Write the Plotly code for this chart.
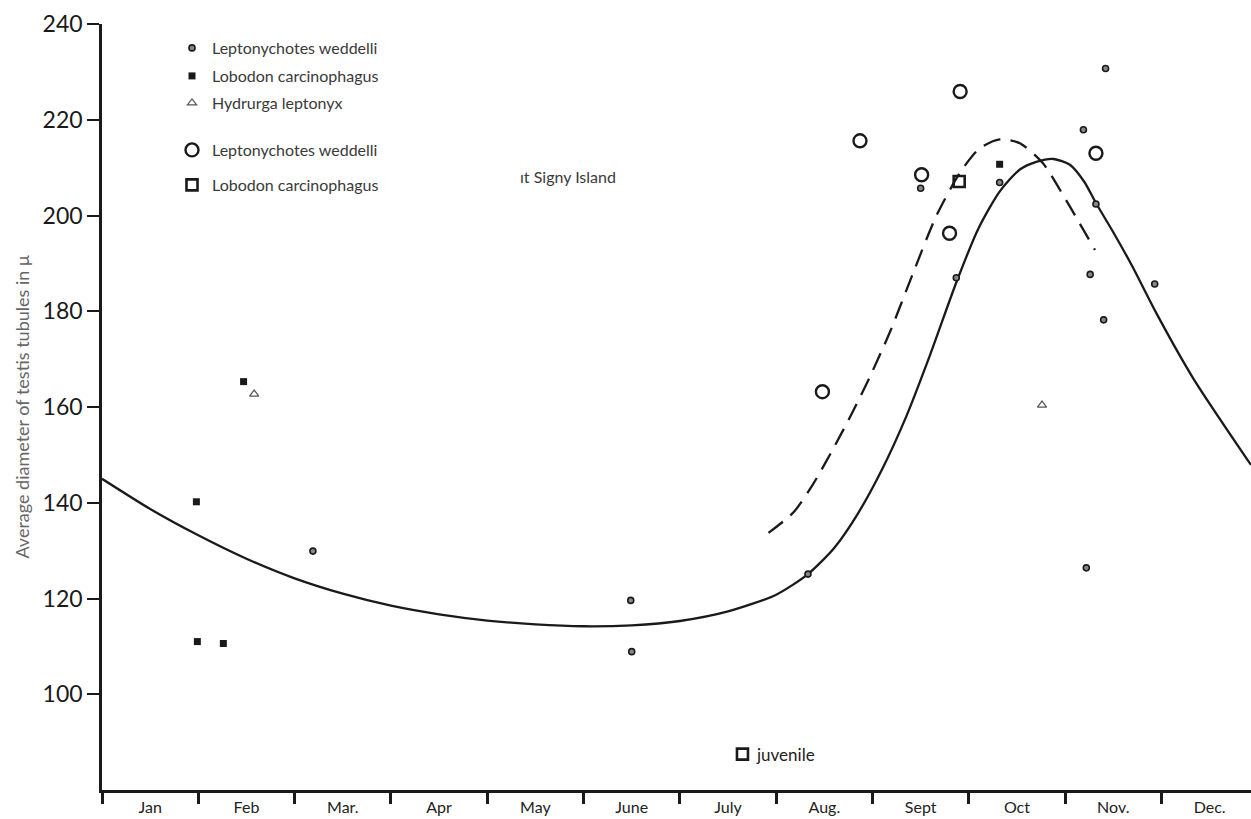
import plotly.graph_objects as go

# ---------------- data ----------------
month_labels = ["Jan", "Feb", "Mar.", "Apr", "May", "June", "July",
                "Aug.", "Sept", "Oct", "Nov.", "Dec."]
month_centres = [0.5, 1.5, 2.5, 3.5, 4.5, 5.5, 6.5, 7.5, 8.5, 9.5, 10.5, 11.5]
y_tick_vals = [100, 120, 140, 160, 180, 200, 220, 240]

# Leptonychotes weddelli (small dots)
wed_x = [2.19, 5.49, 5.50, 7.33, 8.50, 8.87, 9.32, 10.19, 10.26, 10.32, 10.40, 10.42, 10.93, 10.22]
wed_y = [129.9, 119.6, 108.9, 125.1, 205.7, 187.0, 206.9, 217.9, 187.7, 202.4, 178.2, 230.7, 185.7, 126.4]

# Lobodon carcinophagus (filled squares)
lob_x = [0.98, 0.99, 1.26, 1.47, 9.32]
lob_y = [140.2, 111.0, 110.6, 165.3, 210.7]

# Hydrurga leptonyx (open triangles)
hyd_x = [1.58, 9.76]
hyd_y = [162.7, 160.4]

# Leptonychotes weddelli at Signy Island (open circles)
wed_s_x = [7.48, 7.87, 8.51, 8.80, 8.91, 10.32]
wed_s_y = [163.2, 215.6, 208.5, 196.3, 225.9, 213.0]

# Lobodon carcinophagus at Signy Island (open squares; the second is the juvenile)
lob_s_x = [8.90, 6.65]
lob_s_y = [207.1, 87.5]

# fitted curves
solid_x = [0.0, 0.5, 1.0, 1.5, 2.0, 2.5, 3.0, 3.5, 4.0, 4.5, 5.0, 5.5, 6.0, 6.5, 7.0,
           7.33, 7.6, 7.85, 8.1, 8.35, 8.6, 8.87, 9.1, 9.32, 9.53, 9.7, 9.88, 10.05,
           10.2, 10.32, 10.5, 10.7, 10.95, 11.33, 11.93]
solid_y = [145.0, 138.7, 133.2, 128.3, 124.2, 121.0, 118.5, 116.7, 115.4, 114.6, 114.2,
           114.4, 115.3, 117.3, 120.8, 125.1, 130.5, 137.8, 147.0, 158.0, 171.0, 186.0,
           197.3, 205.0, 209.6, 211.2, 211.8, 210.6, 207.0, 202.6, 196.5, 189.3, 179.5,
           166.0, 147.9]

dash_x = [6.92, 7.18, 7.38, 7.59, 7.80, 7.97, 8.18, 8.42, 8.66, 8.91, 9.11, 9.32, 9.53, 9.77, 10.01, 10.31]
dash_y = [133.7, 138.0, 143.8, 151.2, 159.2, 166.2, 175.6, 187.9, 199.8, 209.0, 214.0, 215.9, 215.1, 210.9, 203.2, 192.8]

FONT = "Lato"
INK = "#1a1a1a"
TEXT = "#3a3a3a"
PLOT_W, PLOT_H, LEFT, TOP = 1149, 766, 102, 24


def px_x(p):
    return (p - LEFT) / PLOT_W


def px_y(p):
    return 1 - (p - TOP) / PLOT_H


fig = go.Figure()

fig.add_trace(go.Scatter(x=solid_x, y=solid_y, mode="lines",
                         line=dict(color=INK, width=2.3, shape="spline", smoothing=0.7),
                         showlegend=False, hoverinfo="skip"))
fig.add_trace(go.Scatter(x=dash_x, y=dash_y, mode="lines",
                         line=dict(color=INK, width=2.3, shape="spline", smoothing=0.7, dash="18px,10px"),
                         showlegend=False, hoverinfo="skip"))

fig.add_trace(go.Scatter(x=wed_x, y=wed_y, mode="markers", name="Leptonychotes weddelli",
                         legend="legend",
                         marker=dict(symbol="circle", size=6, color="#888888", line=dict(color=INK, width=1.6))))
fig.add_trace(go.Scatter(x=lob_x, y=lob_y, mode="markers", name="Lobodon carcinophagus",
                         legend="legend2",
                         marker=dict(symbol="square", size=7, color=INK, line=dict(width=0))))
fig.add_trace(go.Scatter(x=hyd_x, y=hyd_y, mode="markers", name="Hydrurga leptonyx",
                         legend="legend3",
                         marker=dict(symbol="triangle-up-open", size=8, color="#555555", line=dict(width=1.2))))
fig.add_trace(go.Scatter(x=wed_s_x, y=wed_s_y, mode="markers", name="Leptonychotes weddelli",
                         legend="legend4",
                         marker=dict(symbol="circle-open", size=13, color=INK, line=dict(width=2.4))))
fig.add_trace(go.Scatter(x=lob_s_x, y=lob_s_y, mode="markers", name="Lobodon carcinophagus",
                         legend="legend5",
                         marker=dict(symbol="square-open", size=11, color=INK, line=dict(width=2.6))))

fig.add_annotation(x=lob_s_x[1], y=lob_s_y[1], text="juvenile", showarrow=False,
                   xanchor="left", xshift=12, font=dict(family=FONT, size=17, color="#222222"))
fig.add_annotation(xref="paper", yref="paper", x=px_x(518), y=px_y(176),
                   text="ıt Signy Island", showarrow=False, xanchor="left", yanchor="middle",
                   font=dict(family=FONT, size=16, color=TEXT))

legend_rows = [48, 76, 103, 150, 185]
legend_x = 172


def leg(row_y):
    return dict(x=px_x(legend_x), y=px_y(row_y), xanchor="left", yanchor="middle",
                font=dict(family=FONT, size=16, color=TEXT), bgcolor="rgba(0,0,0,0)",
                itemwidth=30)


fig.update_layout(
    width=1251, height=819,
    margin=dict(l=LEFT, r=0, t=TOP, b=29),
    paper_bgcolor="white", plot_bgcolor="white",
    font=dict(family=FONT, color=INK),
    legend=leg(legend_rows[0]),
    legend2=leg(legend_rows[1]),
    legend3=leg(legend_rows[2]),
    legend4=leg(legend_rows[3]),
    legend5=leg(legend_rows[4]),
    xaxis=dict(range=[0, 11.93], showgrid=False, zeroline=False,
               showline=True, linecolor=INK, linewidth=2.5,
               tickmode="array", tickvals=month_centres, ticktext=month_labels,
               ticks="outside", ticklen=1, tickcolor="rgba(0,0,0,0)",
               tickfont=dict(family=FONT, size=16, color="#222222"),
               minor=dict(tickmode="linear", tick0=0, dtick=1, ticks="outside",
                          ticklen=11, tickwidth=2.5, tickcolor=INK, showgrid=False)),
    yaxis=dict(range=[80, 240], showgrid=False, zeroline=False,
               showline=True, linecolor=INK, linewidth=2.5,
               tickmode="array", tickvals=y_tick_vals,
               ticks="outside", ticklen=12, tickwidth=2, tickcolor=INK,
               tickfont=dict(family=FONT, size=23, color=INK),
               title=dict(text="Average diameter of testis tubules in \u03bc",
                          font=dict(family=FONT, size=18, color="#666666"), standoff=9)),
)

fig.write_html("out.html")
